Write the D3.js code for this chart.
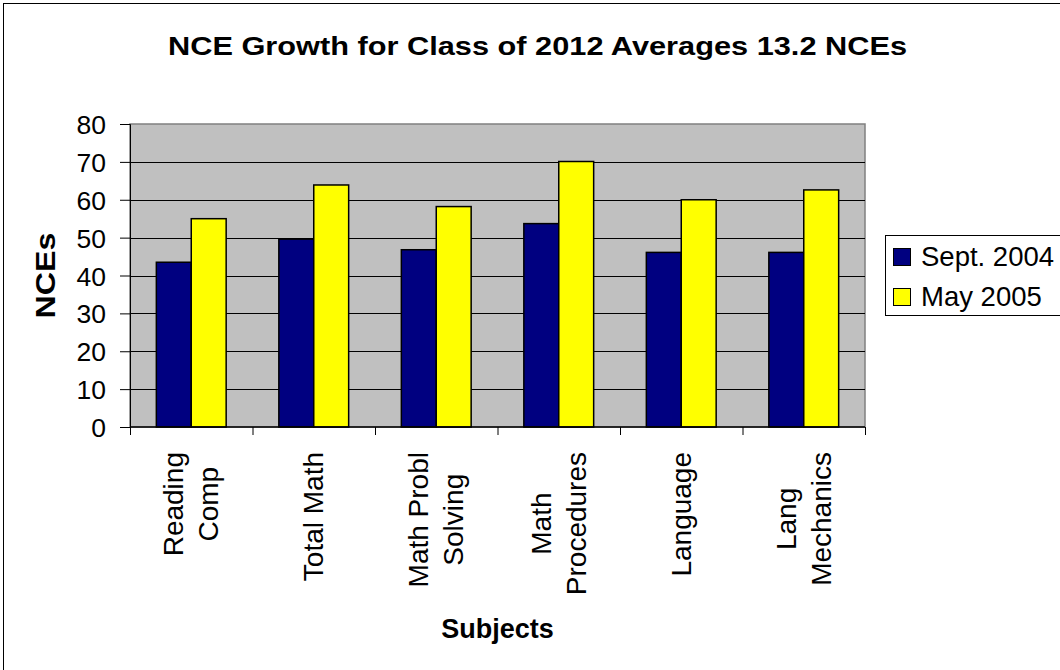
<!DOCTYPE html>
<html>
<head>
<meta charset="utf-8">
<script src="https://cdn.jsdelivr.net/npm/d3@7"></script>
<style>
  html, body { margin: 0; padding: 0; background: #ffffff; }
  svg { display: block; font-family: "Liberation Sans", Arial, sans-serif; }
</style>
</head>
<body>
<svg id="chart" width="1060" height="670"></svg>
<script>
const categories = [["Reading", "Comp"], ["Total Math"], ["Math Probl", "Solving"], ["Math", "Procedures"], ["Language"], ["Lang", "Mechanics"]];
const seriesNames = ["Sept. 2004", "May 2005"];
const sept2004 = [43.5, 49.6, 46.8, 53.7, 46.1, 46.1];
const may2005 = [55.0, 63.9, 58.2, 70.1, 60.0, 62.6];
const yTicks = [0, 10, 20, 30, 40, 50, 60, 70, 80];
const colors = ["#000080", "#ffff00"];
const titleText = "NCE Growth for Class of 2012 Averages 13.2 NCEs";

const svg = d3.select("#chart");
const W = 1060, H = 670;
const plot = { left: 130, right: 865, top: 124, bottom: 427 };

// outer frame (right/bottom edges fall outside the view)
svg.append("rect").attr("x", 3.5).attr("y", 3.5).attr("width", W).attr("height", H)
  .attr("fill", "#fff").attr("stroke", "#000").attr("stroke-width", 1);

const catKeys = categories.map(c => c.join(" "));
const x0 = d3.scaleBand().domain(catKeys).range([plot.left, plot.right]).paddingInner(0.43).paddingOuter(0.215);
const x1 = d3.scaleBand().domain(seriesNames).range([0, x0.bandwidth()]);
const y = d3.scaleLinear().domain([0, 80]).range([plot.bottom, plot.top]);

// plot background
svg.append("rect").attr("x", plot.left).attr("y", plot.top)
  .attr("width", plot.right - plot.left).attr("height", plot.bottom - plot.top)
  .attr("fill", "#c0c0c0").attr("stroke", "#808080").attr("stroke-width", 1.5);

// gridlines
svg.append("g").selectAll("line").data(yTicks.filter(t => t > 0 && t < 80)).join("line")
  .attr("x1", plot.left).attr("x2", plot.right)
  .attr("y1", d => Math.round(y(d)) + 0.5).attr("y2", d => Math.round(y(d)) + 0.5)
  .attr("stroke", "#000").attr("stroke-width", 1);

// bars
const data = catKeys.map((k, i) => ({ key: k, values: [sept2004[i], may2005[i]] }));
const groups = svg.append("g").selectAll("g").data(data).join("g")
  .attr("transform", d => `translate(${x0(d.key)},0)`);
groups.selectAll("rect").data(d => d.values.map((v, j) => ({ name: seriesNames[j], v, j }))).join("rect")
  .attr("x", d => x1(d.name)).attr("width", x1.bandwidth())
  .attr("y", d => y(d.v)).attr("height", d => y(0) - y(d.v))
  .attr("fill", d => colors[d.j]).attr("stroke", "#000").attr("stroke-width", 1.5);

// y axis
const yAxis = d3.axisLeft(y).tickValues(yTicks).tickSize(10).tickPadding(14).tickFormat(d3.format("d"));
const yg = svg.append("g").attr("transform", `translate(${plot.left},0)`).call(yAxis);
yg.select(".domain").attr("stroke", "#000").attr("stroke-width", 1);
yg.selectAll(".tick line").attr("stroke", "#000");
yg.selectAll(".tick text").attr("font-size", 26.5).attr("fill", "#000")
  .attr("font-family", "'Liberation Sans', Arial, sans-serif").attr("dy", "0.36em");

// x axis (ticks at category boundaries)
const xb = d3.scaleLinear().domain([0, categories.length]).range([plot.left, plot.right]);
const xAxis = d3.axisBottom(xb).tickValues(d3.range(0, categories.length + 1)).tickSize(8).tickFormat("");
const xg = svg.append("g").attr("transform", `translate(0,${plot.bottom})`).call(xAxis);
xg.select(".domain").attr("stroke", "#000").attr("stroke-width", 1.5).attr("d", `M${plot.left},0H${plot.right}`);
xg.selectAll(".tick line").attr("stroke", "#000");

// category labels (rotated, anchored at top)
const labelTop = 452, lineGap = 35, labelSize = 28;
categories.forEach((lines, i) => {
  const cx = x0(catKeys[i]) + x0.bandwidth() / 2;
  const g = svg.append("g");
  const texts = lines.map((ln, j) => g.append("text").text(ln)
    .attr("font-size", labelSize).attr("fill", "#000").attr("text-anchor", "middle"));
  const maxLen = d3.max(texts, t => t.node().getComputedTextLength());
  const cy = labelTop + maxLen / 2;
  texts.forEach((t, j) => {
    const off = (j - (lines.length - 1) / 2) * lineGap + labelSize * 0.34;
    t.attr("transform", `translate(${cx + off},${cy}) rotate(-90)`);
  });
});

// title
svg.append("text").attr("x", 537.5).attr("y", 55).attr("text-anchor", "middle")
  .attr("font-size", 26).attr("font-weight", "bold").attr("fill", "#000")
  .attr("textLength", 739).attr("lengthAdjust", "spacingAndGlyphs")
  .text(titleText);

// axis titles
svg.append("text").attr("transform", `translate(55,275.5) rotate(-90)`)
  .attr("text-anchor", "middle").attr("font-size", 27).attr("font-weight", "bold")
  .attr("textLength", 86).attr("lengthAdjust", "spacingAndGlyphs").text("NCEs");
svg.append("text").attr("x", (plot.left + plot.right) / 2).attr("y", 638)
  .attr("text-anchor", "middle").attr("font-size", 27).attr("font-weight", "bold").text("Subjects");

// legend
const lg = svg.append("g");
lg.append("rect").attr("x", 885.5).attr("y", 235.5).attr("width", 200).attr("height", 80)
  .attr("fill", "#fff").attr("stroke", "#000").attr("stroke-width", 1);
seriesNames.forEach((name, i) => {
  const yy = 248 + i * 40;
  lg.append("rect").attr("x", 893.5).attr("y", yy + 0.5).attr("width", 17).attr("height", 17)
    .attr("fill", colors[i]).attr("stroke", "#000").attr("stroke-width", 1);
  lg.append("text").attr("x", 921).attr("y", yy + 18).attr("font-size", 27.5).attr("fill", "#000").text(name);
});
</script>
</body>
</html>
